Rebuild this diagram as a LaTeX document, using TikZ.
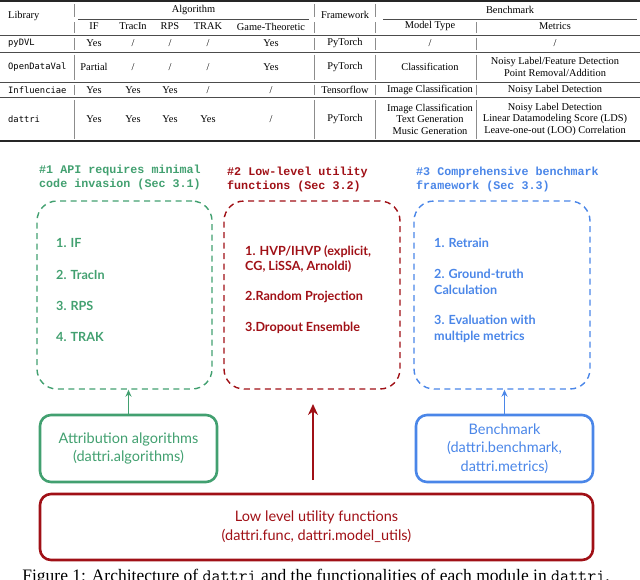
\documentclass[tikz,border=0pt]{standalone}
\usepackage{fontspec}
\setmainfont{Liberation Serif}
\newfontfamily\libfont{DejaVu Sans Mono}
\newfontfamily\courfont{Liberation Mono}
\newfontfamily\latofont{Lato}
\usetikzlibrary{arrows.meta}
\definecolor{dgreen}{RGB}{66,160,112}
\definecolor{dred}{RGB}{160,16,22}
\definecolor{dblue}{RGB}{74,134,232}
\tikzset{
  cell/.style={font=\fontsize{10.4}{11.5}\selectfont, inner sep=0pt, align=center},
  lib/.style={font=\libfont\fontsize{8.8}{10}\selectfont, anchor=west, inner sep=0pt},
  vbar/.style={draw=black!45, line width=0.5pt},
  thickrule/.style={draw=black!85, line width=1.3pt},
  thinrule/.style={draw=black!70, line width=0.6pt},
  dbox/.style={draw=#1, dash pattern=on 6pt off 4.5pt, line width=1.4pt, rounded corners=20pt, minimum width=175pt, minimum height=188pt, inner sep=0pt},
  sbox/.style={draw=#1, line width=2.6pt, rounded corners=11pt, minimum width=177pt, minimum height=67pt, inner sep=0pt, text=#1, align=center, font=\latofont\fontsize{14.5}{18.7}\selectfont},
  head/.style={text=#1, anchor=west, align=left, inner sep=0pt, font=\courfont\bfseries\fontsize{11.7}{14}\selectfont},
  item/.style={text=#1, anchor=west, align=left, inner sep=0pt, font=\latofont\bfseries\fontsize{12.6}{15.8}\selectfont},
  uparrow/.style={draw=#1, line width=1.5pt, -{Stealth[length=7pt,width=6pt]}},
}
\begin{document}
\begin{tikzpicture}[x=1pt,y=-1pt]
\useasboundingbox (0,0) rectangle (640,579);
% ---------------- table rules
\draw[thickrule] (0,1) -- (640,1);
\draw[thinrule] (78,19) -- (309,19);
\draw[thinrule] (383,19) -- (637,19);
\draw[thinrule] (0,35) -- (640,35);
\draw[thinrule] (0,52) -- (640,52);
\draw[thinrule] (0,82) -- (640,82);
\draw[thinrule] (0,97.5) -- (640,97.5);
\draw[thickrule] (0,141) -- (640,141);
\foreach \x in {74,314,375} {\draw[vbar] (\x,4) -- (\x,16.5); \draw[vbar] (\x,22) -- (\x,32.5);}
\draw[vbar] (476,22) -- (476,32.5);
\foreach \x in {74,314,375,476} {
  \draw[vbar] (\x,37.5) -- (\x,49.5);
  \draw[vbar] (\x,54.5) -- (\x,79.5);
  \draw[vbar] (\x,84.5) -- (\x,95);
  \draw[vbar] (\x,100) -- (\x,139);
}
% ---------------- header
\node[cell, anchor=west] (hlib) at (8,16) {Library};
\node[cell] (halg) at (193.5,10) {Algorithm};
\node[cell] (hfw) at (345,15) {Framework};
\node[cell] (hbm) at (510,10) {Benchmark};
\node[cell] (hif) at (94,26.5) {IF};
\node[cell] (htr) at (133,26.5) {TracIn};
\node[cell] (hrps) at (170,26.5) {RPS};
\node[cell] (htrak) at (208,26.5) {TRAK};
\node[cell] (hgt) at (271,26.5) {Game-Theoretic};
\node[cell] (hmt) at (430,26.5) {Model Type};
\node[cell] (hmet) at (555,26.5) {Metrics};
% ---------------- row pyDVL
\node[lib] (l1) at (8,43.5) {pyDVL};
\node[cell] (r1a) at (94,43.5) {Yes};
\node[cell] (r1b) at (133,43.5) {/};
\node[cell] (r1c) at (170,43.5) {/};
\node[cell] (r1d) at (208,43.5) {/};
\node[cell] (r1e) at (271,43.5) {Yes};
\node[cell] (r1f) at (345,43.5) {PyTorch};
\node[cell] (r1g) at (430,43.5) {/};
\node[cell] (r1h) at (555,43.5) {/};
% ---------------- row OpenDataVal
\node[lib] (l2) at (8,67) {OpenDataVal};
\node[cell] (r2a) at (94,67) {Partial};
\node[cell] (r2b) at (133,67) {/};
\node[cell] (r2c) at (170,67) {/};
\node[cell] (r2d) at (208,67) {/};
\node[cell] (r2e) at (271,67) {Yes};
\node[cell] (r2f) at (345,67) {PyTorch};
\node[cell] (r2g) at (430,67) {Classification};
\node[cell] (r2h) at (555,67) {Noisy Label/Feature Detection\\Point Removal/Addition};
% ---------------- row Influenciae
\node[lib] (l3) at (8,90) {Influenciae};
\node[cell] (r3a) at (94,90) {Yes};
\node[cell] (r3b) at (133,90) {Yes};
\node[cell] (r3c) at (170,90) {Yes};
\node[cell] (r3d) at (208,90) {/};
\node[cell] (r3e) at (271,90) {/};
\node[cell] (r3f) at (345,90) {Tensorflow};
\node[cell] (r3g) at (430,90) {Image Classification};
\node[cell] (r3h) at (555,90) {Noisy Label Detection};
% ---------------- row dattri
\node[lib] (l4) at (8,119) {dattri};
\node[cell] (r4a) at (94,119) {Yes};
\node[cell] (r4b) at (133,119) {Yes};
\node[cell] (r4c) at (170,119) {Yes};
\node[cell] (r4d) at (208,119) {Yes};
\node[cell] (r4e) at (271,119) {/};
\node[cell] (r4f) at (345,119) {PyTorch};
\node[cell] (r4g) at (430,119) {Image Classification\\Text Generation\\Music Generation};
\node[cell] (r4h) at (555,119) {Noisy Label Detection\\Linear Datamodeling Score (LDS)\\Leave-one-out (LOO) Correlation};
% ---------------- headings
\node[head=dgreen] (t1) at (39,177) {\#1 API requires minimal\\code invasion (Sec 3.1)};
\node[head=dred] (t2) at (227,179) {\#2 Low-level utility\\functions (Sec 3.2)};
\node[head=dblue] (t3) at (416,179) {\#3 Comprehensive benchmark\\framework (Sec 3.3)};
% ---------------- dashed boxes
\node[dbox=dgreen] (b1) at (124.5,295) {};
\node[dbox=dred, minimum width=176pt] (b2) at (312,295) {};
\node[dbox=dblue, minimum width=176pt] (b3) at (502,295) {};
% ---------------- items
\node[item=dgreen] (i11) at (56,243) {1. IF};
\node[item=dgreen] (i12) at (56,275) {2. TracIn};
\node[item=dgreen] (i13) at (56,305.5) {3. RPS};
\node[item=dgreen] (i14) at (56,337) {4. TRAK};
\node[item=dred] (i21) at (245,259) {1. HVP/IHVP (explicit,\\CG, LiSSA, Arnoldi)};
\node[item=dred] (i22) at (245,297) {2.Random Projection};
\node[item=dred] (i23) at (245,328) {3.Dropout Ensemble};
\node[item=dblue] (i31) at (434,243) {1. Retrain};
\node[item=dblue] (i32) at (434,282) {2. Ground-truth\\Calculation};
\node[item=dblue] (i33) at (434,328.5) {3. Evaluation with\\multiple metrics};
% ---------------- solid boxes
\node[sbox=dgreen] (alg) at (128.5,448.5) {Attribution algorithms\\(dattri.algorithms)};
\node[sbox=dblue] (bench) at (504.5,448.5) {Benchmark\\(dattri.benchmark,\\dattri.metrics)};
\node[sbox=dred, minimum width=553pt, minimum height=66pt] (low) at (316.5,527) {Low level utility functions\\(dattri.func, dattri.model\_utils)};
% ---------------- arrows
\draw[uparrow=dgreen] (alg.north) -- (alg.north |- b1.south);
\draw[uparrow=dblue] (bench.north) -- (bench.north |- b3.south);
\coordinate (ra1) at (313,480);
\coordinate (ra2) at (313,404);
\draw[draw=dred, line width=2.4pt, -{Stealth[length=11pt,width=10pt]}] (ra1) -- (ra2);
% ---------------- caption (cut by the page edge, as in the reference)
\node[anchor=base, inner sep=0pt, font=\fontsize{17.5}{19}\selectfont] (cap) at (316,581) {Figure 1: Architecture of \texttt{dattri} and the functionalities of each module in \texttt{dattri}.};
\end{tikzpicture}
\end{document}
